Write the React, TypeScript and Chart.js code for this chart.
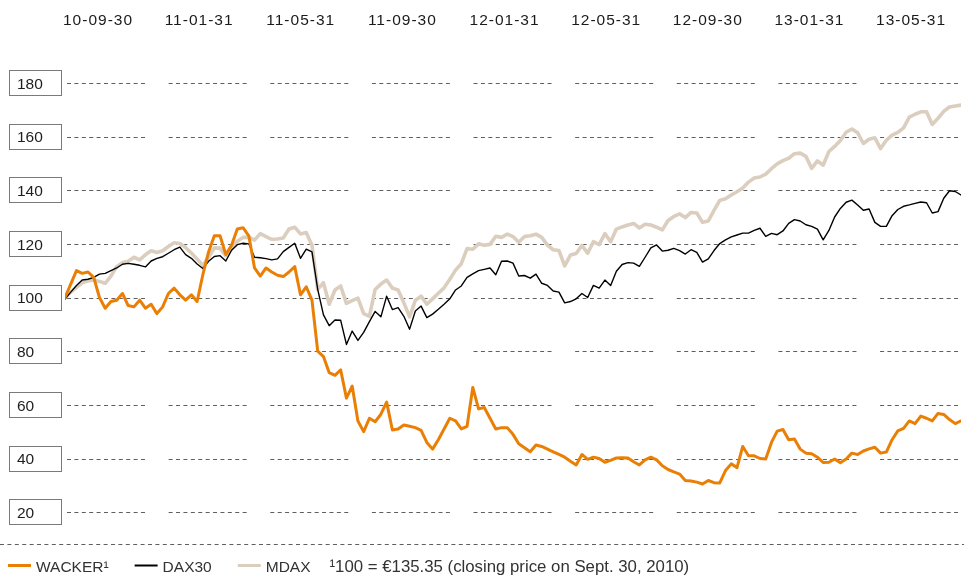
import React, { useEffect, useRef } from "react";
import { Chart, registerables } from "chart.js";

Chart.register(...registerables);

// Column labels across the top (every four months)
const topLabels = ["10-09-30", "11-01-31", "11-05-31", "11-09-30", "12-01-31", "12-05-31", "12-09-30", "13-01-31", "13-05-31"];

// Y-axis tick values
const yTicks = [20, 40, 60, 80, 100, 120, 140, 160, 180];

// Weekly index values, 100 = Sept. 30, 2010
const wacker = [
  100, 105, 110, 109, 109.5, 107.5, 100, 96, 98.5, 99,
  101.5, 97, 96.5, 99, 96, 97.5, 94, 96.5, 101.5, 103.5,
  101, 99, 101, 98.5, 108.5, 117, 123, 123, 116, 119.5,
  125.5, 126, 123, 111, 108, 111, 109.5, 108.3, 107.8, 109.5,
  111.5, 101, 104, 99, 80, 78, 72, 71, 73, 62.5,
  67, 54, 50, 55, 53.7, 56.5, 61, 50.6, 51, 52.5,
  52, 51.5, 50.5, 46, 43.5, 47, 51, 55, 54, 51,
  52, 66.5, 58.5, 59, 55, 51, 51.5, 51.5, 49, 45.5,
  44, 42.5, 45, 44.5, 43.5, 42.5, 41.5, 40.5, 39, 37.6,
  41.5, 39.7, 40.5, 40, 38.6, 39.3, 40.2, 40.3, 40.2, 38.8,
  37.6, 39.5, 40.5, 39.5, 37.3, 35.9, 35, 34.2, 31.8, 31.6,
  31.2, 30.5, 31.8, 31, 30.9, 35.5, 38, 36.6, 44.5, 41,
  41, 40, 39.8, 46, 50.2, 50.8, 47, 47.3, 43.5, 42,
  41.8, 40.5, 38.5, 38.6, 39.8, 38.4, 39.8, 42, 41.5, 42.8,
  43.6, 44.2, 42, 42.4, 47, 50.3, 51.2, 54, 53, 55.8,
  55, 54, 56.8, 56.4, 54.5, 53, 54,
];

const dax30 = [
  99.4, 102, 104.5, 106.5, 106.8, 107.5, 108.7, 109, 110, 111,
  112.4, 112.7, 112.4, 112, 111.4, 113.6, 114.6, 115.2, 116.5, 117.8,
  118.8, 116, 114.6, 112.5, 110.8, 113.5, 115.3, 115.6, 113.6, 117.6,
  119.7, 120.2, 120, 115, 114.8, 114.5, 114, 114.4, 117.1, 118.7,
  120.2, 114.6, 118, 117, 103, 93.5, 89.5, 91.6, 91.5, 82.5,
  87.5, 84, 87, 91, 94.8, 92.8, 100.5, 95.5, 96.2, 93,
  88.2, 95, 96.8, 92.5, 93.8, 95.6, 97.5, 99.5, 102.8, 104.3,
  107.5, 108.8, 110, 110.5, 111, 108.5, 113.5, 113.6, 112.8, 108,
  108.2, 107.2, 108.7, 105.3, 104.5, 102.4, 102, 98, 98.5, 99.5,
  101.5, 100, 104.5, 103.5, 106.5, 104.5, 109.8, 112.3, 113, 112.8,
  111.6, 115, 118.5, 119.6, 117.3, 117.6, 118.3, 117.5, 116.2, 117.8,
  116.8, 113.2, 114.4, 117.5, 120.1, 121.5, 122.6, 123.3, 124, 124,
  125, 125.8, 122.8, 123.9, 123.4, 124.8, 127.6, 129, 128.5, 127.1,
  126.5, 125.5, 121.5, 125, 130, 133.2, 135.5, 136.3, 134.5, 132.5,
  133, 128, 126.5, 126.5, 130.5, 132.8, 134, 134.5, 135.1, 135.6,
  135.3, 131.5, 132, 137, 139.8, 139.5, 138.2,
];

const mdax = [
  100, 102, 103.8, 105.5, 106.2, 106.5, 106, 105.3, 108, 111.5,
  113, 113.5, 115, 114, 115.9, 117.4, 116.8, 117.4, 119, 120.4,
  120.1, 118.6, 116.6, 114.3, 112, 115, 118.5, 118.4, 115.5, 118.3,
  121, 122.4, 122.5, 121.4, 123.8, 122.7, 121.7, 121.8, 122.2, 125.5,
  126.2, 123.7, 124.2, 119.5, 103, 105.5, 97.5, 102.8, 104.3, 97.8,
  98.8, 99.8, 94, 93, 103, 105, 106.5, 103.5, 102.8, 98,
  92.8, 99, 100.5, 97.5, 99.5, 101.6, 103.6, 106.8, 110.2, 112.6,
  118.2, 118, 120, 119.5, 119.8, 122.8, 122.4, 123.6, 122.7, 120.6,
  122.7, 123, 123.6, 122.4, 119.5, 117.8, 117.5, 111.8, 115.8, 116.4,
  119.4, 116.5, 120.8, 119.7, 123.8, 120.8, 125.5, 126.3, 127, 127.6,
  125.9, 127.3, 127, 126.2, 125.2, 128.7, 130.2, 131.2, 129.8, 131.7,
  131.5, 128, 128.5, 132.5, 136.2, 136.8, 138.2, 139.4, 140.8, 143,
  144.5, 144.9, 146, 148, 149.8, 151, 151.9, 153.6, 153.8, 152.6,
  148.1, 150.9, 149.3, 154.4, 156.3, 158.5, 161.6, 162.8, 161.4, 157.4,
  159, 159.5, 155.5, 158.6, 160.5, 161.5, 163.2, 167.2, 168.3, 169.2,
  169.2, 164.5, 166.8, 169.4, 171, 171.4, 171.7,
];

const weeks = wacker.map((_, i) => i);
const seriesNames = ["WACKER¹", "DAX30", "MDAX"];
const seriesColors = ["#EA7F05", "#000000", "#DBCEBE"];
const footnote = "¹100 = €135.35 (closing price on Sept. 30, 2010)";

const FONT = '"Liberation Sans", Arial, Helvetica, sans-serif';

const decorPlugin = {
  id: "decor",
  beforeDatasetsDraw(chart: any) {
    const { ctx, chartArea, scales } = chart;
    const y = scales.y;
    const gap = 20.7;
    const segStart0 = chartArea.left + 2;
    const pitch = (chartArea.right - segStart0 + gap) / topLabels.length;
    const segLen = pitch - gap;
    ctx.save();
    // dashed grid segments
    ctx.strokeStyle = "#5f5f5f";
    ctx.lineWidth = 1;
    ctx.setLineDash([4, 3.4]);
    yTicks.forEach((t) => {
      const py = Math.round(y.getPixelForValue(t)) + 0.5;
      for (let k = 0; k < topLabels.length; k++) {
        const sx = segStart0 + k * pitch;
        ctx.beginPath();
        ctx.moveTo(sx, py);
        ctx.lineTo(sx + segLen, py);
        ctx.stroke();
      }
    });
    ctx.setLineDash([]);
    // y-label boxes
    ctx.font = `15.5px ${FONT}`;
    ctx.textBaseline = "alphabetic";
    ctx.textAlign = "left";
    yTicks.forEach((t) => {
      const gy = y.getPixelForValue(t);
      const top = Math.round(gy - 13) + 0.5;
      ctx.fillStyle = "#ffffff";
      ctx.fillRect(9.5, top, 52, 25);
      ctx.strokeStyle = "#7a7a7a";
      ctx.strokeRect(9.5, top, 52, 25);
      ctx.fillStyle = "#1e1e1e";
      ctx.fillText(String(t), 17, gy + 5.7);
    });
    // top labels
    (ctx as any).letterSpacing = "1px";
    ctx.fillStyle = "#1a1a1a";
    topLabels.forEach((lab, k) => {
      const sx = segStart0 + k * pitch;
      ctx.fillText(lab, sx - 4, 25);
    });
    (ctx as any).letterSpacing = "0px";
    ctx.restore();
  },
  afterDraw(chart: any) {
    const { ctx, width } = chart;
    ctx.save();
    // separator
    ctx.strokeStyle = "#5f5f5f";
    ctx.lineWidth = 1;
    ctx.setLineDash([4, 3.4]);
    ctx.beginPath();
    ctx.moveTo(0, 544.5);
    ctx.lineTo(width, 544.5);
    ctx.stroke();
    ctx.setLineDash([]);
    // legend
    ctx.textBaseline = "alphabetic";
    ctx.textAlign = "left";
    let x = 8;
    const ly = 565.5;
    chart.data.datasets.forEach((ds: any, i: number) => {
      ctx.font = `15.5px ${FONT}`;
      ctx.strokeStyle = ds.borderColor;
      ctx.lineWidth = i === 1 ? 2 : 3;
      ctx.beginPath();
      ctx.moveTo(x, ly);
      ctx.lineTo(x + 23, ly);
      ctx.stroke();
      x += 28;
      ctx.fillStyle = "#333333";
      ctx.fillText(ds.label, x, 572);
      x += ctx.measureText(ds.label).width + (i === 2 ? 19 : 26);
    });
    ctx.font = `16.8px ${FONT}`;
    ctx.fillStyle = "#333333";
    ctx.fillText(footnote, x, 572);
    ctx.restore();
  },
};

export default function App() {
  const ref = useRef<HTMLCanvasElement | null>(null);
  useEffect(() => {
    document.body.style.margin = "0";
    const canvas = ref.current;
    if (!canvas) return;
    const series = [wacker, dax30, mdax];
    const widths = [3, 1.4, 3.6];
    const chart = new Chart(canvas, {
      type: "line",
      data: {
        datasets: series.map((vals, i) => ({
          label: seriesNames[i],
          data: vals.map((v, j) => ({ x: weeks[j], y: v })),
          borderColor: seriesColors[i],
          backgroundColor: seriesColors[i],
          borderWidth: widths[i],
          pointRadius: 0,
          tension: 0,
          borderJoinStyle: "round" as const,
          borderCapStyle: "round" as const,
          fill: false,
        })),
      },
      options: {
        animation: false,
        responsive: false,
        devicePixelRatio: 1,
        layout: { padding: { left: 65, right: 3, top: 56, bottom: 40 } },
        scales: {
          x: { type: "linear", min: 0, max: weeks.length - 1, display: false },
          y: { type: "linear", min: 10, max: 190, display: false },
        },
        plugins: { legend: { display: false }, tooltip: { enabled: false } },
      },
      plugins: [decorPlugin],
    });
    return () => chart.destroy();
  }, []);
  return (
    <div style={{ width: 964, height: 579, background: "#fff" }}>
      <canvas ref={ref} width={964} height={579} style={{ display: "block" }} />
    </div>
  );
}
